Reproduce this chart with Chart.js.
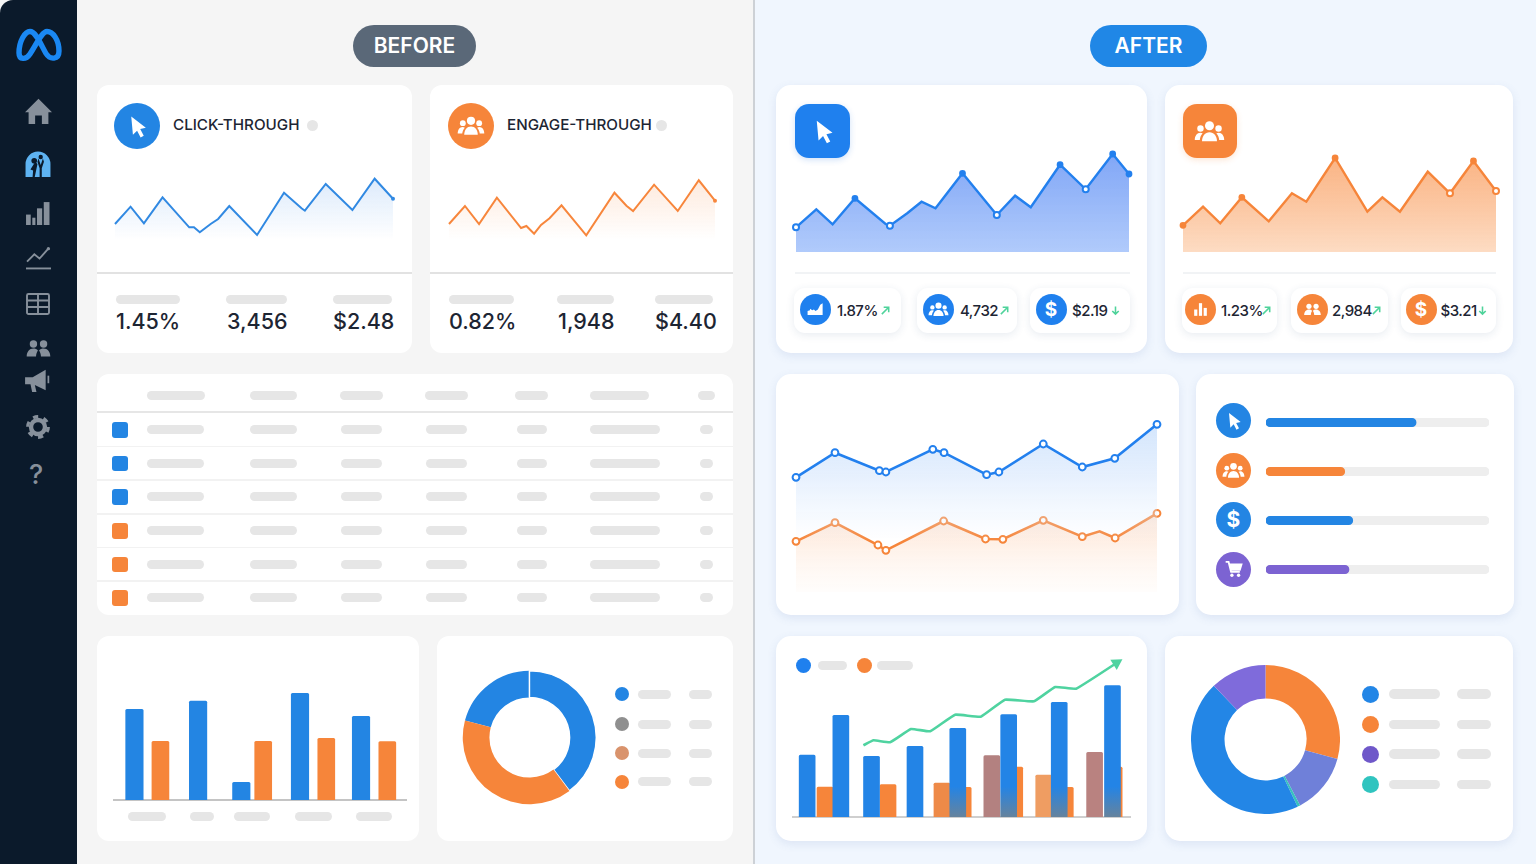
<!DOCTYPE html>
<html>
<head>
<meta charset="utf-8">
<title>Before / After</title>
<script src="https://cdn.jsdelivr.net/npm/chart.js@4"></script>
<style>
    html, body { margin: 0; padding: 0; }
    body { width: 1536px; height: 864px; overflow: hidden; font-family: Inter, Roboto, sans-serif; background: #f5f5f5; position: relative; }
    #stage > * { position: absolute; }
    canvas { display: block; }
    .card { background: #fff; border-radius: 12px; box-sizing: border-box; }
    .after { border-radius: 15px; box-shadow: 0 3px 10px rgba(70, 110, 170, 0.12); }
    .chip { background: #fff; border-radius: 11px; box-shadow: 0 2px 8px rgba(40, 70, 120, 0.11); }
    .label { white-space: nowrap; transform: translateY(-50%); line-height: 1; }
    svg { display: block; overflow: visible; }
</style>
</head>
<body>
<div id="stage"></div>
<script>
// values, days run 0-100 along each chart
const clickBeforeDays = [0, 5.6, 10.4, 17.1, 26.7, 28.4, 30.5, 34.4, 37.1, 41.1, 51.1, 60.8, 67.1, 68.3, 75.8, 85.4, 93.4, 100];
const clickBeforeValues = [16, 33.3, 16.7, 42.7, 12.7, 12.7, 7.7, 16, 21, 34, 5, 47.3, 31.7, 29.3, 56, 30, 61.3, 41.3];
const engageBeforeDays = [0, 6, 11.3, 18, 27.1, 29.1, 32, 34.6, 37.8, 42.3, 51.6, 62.2, 66.7, 69.2, 77.1, 86, 93.9, 100];
const engageBeforeValues = [16, 34, 16, 42.3, 12, 14, 6.3, 15, 21.7, 34.7, 4.7, 47.3, 34.3, 29, 55.3, 29, 59.7, 39.3];

const clickAfterDays = [0, 6.1, 11, 17.7, 26.9, 28.2, 33.4, 37.7, 41.9, 50, 60.3, 65.8, 70.5, 79.3, 87, 95.1, 100];
const clickAfterValues = [24.7, 42.7, 27.7, 53.7, 28, 26.3, 38.7, 50.3, 43.7, 78.7, 37, 56.3, 44.7, 87.3, 62.7, 98, 78];
const engageAfterDays = [0, 6.4, 11.9, 18.8, 27.4, 34.8, 39.4, 48.6, 58.9, 63.7, 69.3, 78.2, 85.3, 92.8, 100];
const engageAfterValues = [26.7, 45.3, 28.7, 54.7, 30.7, 58.7, 50.3, 94, 40.3, 54.7, 40.3, 80.3, 58.7, 91, 61];

const trendBlueDays = [0, 10.8, 23.1, 24.9, 37.9, 41, 52.8, 56.2, 68.5, 79.3, 88.3, 100];
const trendBlueValues = [114.7, 139.3, 121.3, 120, 142.7, 139.3, 117.3, 120, 148, 125, 133.7, 167.7];
const trendOrangeDays = [0, 10.8, 22.7, 24.9, 40.9, 52.5, 57.3, 68.5, 79.3, 84.1, 88.4, 100];
const trendOrangeValues = [50.7, 69.3, 47, 41.7, 71, 53, 52.7, 71.7, 55.3, 60.7, 54, 78.7];

const barsBeforeBlueDays = [7, 28.8, 43.6, 63.7, 84.6];
const barsBeforeBlueValues = [90.7, 99, 17.7, 106.7, 83.7];
const barsBeforeOrangeDays = [15.9, 51.1, 72.7, 93.6];
const barsBeforeOrangeValues = [58.7, 58.7, 61.7, 58.3];

const barsAfterBlueDays = [4.2, 14.2, 23.3, 36.2, 48.9, 64, 79, 94.8];
const barsAfterBlueValues = [62, 101.7, 60.7, 70.7, 88.7, 102.3, 114.7, 131.3];
const barsAfterOrangeDays = [9.5, 28.2, 44.2, 50.5, 59, 65.8, 74.4, 80.8, 89.5, 95.3];
const barsAfterOrangeValues = [30, 32.3, 34, 29.7, 61.3, 50, 42, 29.7, 64.7, 50];
const growthDays = [20.9, 23.9, 28.8, 35, 40.7, 48.1, 55.7, 62.9, 71.5, 77.8, 84, 96];
const growthValues = [71.7, 76.7, 74.7, 88, 85.7, 102.3, 100.3, 117.3, 115.7, 130, 128.3, 154];

const donutBeforeValues = [20.9, 39.8, 39.3];
const donutAfterValues = [29.2, 13.1, 0.6, 44.9, 12.2];
const progressCategories = ['Click', 'Engage', 'Cost', 'Purchase'];
const progressValues = [67.3, 35.3, 38.9, 37.2];

const clickBeforeStats = ['1.45%', '3,456', '$2.48'];
const engageBeforeStats = ['0.82%', '1,948', '$4.40'];
const clickAfterStats = ['1.87%', '4,732', '$2.19'];
const engageAfterStats = ['1.23%', '2,984', '$3.21'];

const BLUE = '#2385e3';
const ORANGE = '#f6853a';
const PURPLE = '#7c63d2';
const PILL = '#e6e6e6';
const INK = '#1d2533';
const NAV = '#87909b';

const stage = document.getElementById('stage');

function add(tag, left, top, width, height, css, cls) {
    const el = document.createElement(tag);
    el.style.left = left + 'px';
    el.style.top = top + 'px';
    if (width != null) el.style.width = width + 'px';
    if (height != null) el.style.height = height + 'px';
    if (css) el.style.cssText += css;
    if (cls) el.className = cls;
    stage.appendChild(el);
    return el;
}

function pill(x1, x2, cy, h) {
    add('div', x1, cy - (h || 9) / 2, x2 - x1, h || 9, 'background:' + PILL + ';border-radius:5px;');
}

function dot(cx, cy, r, color) {
    add('div', cx - r, cy - r, r * 2, r * 2, 'background:' + color + ';border-radius:50%;');
}

function text(str, left, cy, size, weight, color, spacing) {
    const el = add('div', left, cy, null, null, 'font-size:' + size + 'px;font-weight:' + weight + ';color:' + color + ';letter-spacing:' + (spacing || 0) + 'px;', 'label');
    el.textContent = str;
}

const ICONS = {
    cursor: '<path fill="currentColor" d="M6 2.5 L7.6 20 L11.6 16 L15 22.5 L18 20.8 L14.6 14.4 L20 13.2 Z"/>',
    people: '<g fill="currentColor"><circle cx="12" cy="7.6" r="3.5"/><circle cx="5" cy="9.6" r="2.5"/><circle cx="19" cy="9.6" r="2.5"/><path d="M6.2 19.5c0-4 2.4-7 5.8-7s5.8 3 5.8 7z"/><path d="M.6 18.5c0-3.2 1.8-5.6 4.2-5.6.7 0 1.3.2 1.9.5-1.3 1.3-2 3.1-2.2 5.1z"/><path d="M23.4 18.5c0-3.2-1.8-5.6-4.2-5.6-.7 0-1.3.2-1.9.5 1.3 1.3 2 3.1 2.2 5.1z"/></g>',
    people2: '<g fill="currentColor"><circle cx="7.5" cy="8" r="3.3"/><circle cx="16.5" cy="8" r="3.3"/><path d="M1.5 19c0-4 2.4-7 6-7 1.6 0 3 .6 4 1.7-1 1.4-1.6 3.2-1.7 5.3z"/><path d="M22.5 19c0-4-2.4-7-6-7-1.6 0-3 .6-4 1.7 1 1.4 1.6 3.2 1.7 5.3z"/></g>',
    area: '<path fill="currentColor" d="M2 19 V14 L5 13 V11 L8 13 L10 12 L12 14 L15 12 L18 6 L21 4 V19 Z"/>',
    columns: '<g fill="currentColor"><rect x="4" y="12" width="4" height="8"/><rect x="10" y="4" width="4" height="16"/><rect x="16" y="10" width="4" height="10"/></g>',
    cart: '<g fill="none" stroke="currentColor" stroke-width="2.2"><path d="M2 3.5h3.5l3 12h10.5"/><path d="M6 6.5h15l-2 6.5H8" fill="currentColor"/></g><circle fill="currentColor" cx="9.5" cy="19.5" r="2"/><circle fill="currentColor" cx="17.5" cy="19.5" r="2"/>',
    home: '<path fill="currentColor" d="M12 1.5 L24 13.5 H20.8 V24 H15 V16.5 H9 V24 H3.2 V13.5 H0 Z"/>',
    gauge: '<path fill="currentColor" d="M.5 24 V12 A11.5 11.5 0 0 1 23.5 12 V24 Z"/><g fill="#0b1a2b"><circle cx="8.5" cy="9" r="2.6"/><circle cx="14.5" cy="5.5" r="2"/><path d="M5 17 L9.5 10 L11.5 12 L9 24 H7 L7.5 18 Z"/><path d="M12.5 7 L14.5 13 L16.5 7 L17.5 10 L15.5 16 V24 H13.5 V16 L11.5 10 Z"/></g>',
    bars: '<g fill="currentColor"><rect x="1" y="14" width="4.5" height="10"/><rect x="7" y="17" width="3" height="7"/><rect x="11.5" y="8" width="5" height="16"/><rect x="18" y="2" width="5.5" height="22"/></g>',
    line: '<path fill="none" stroke="currentColor" stroke-width="1.8" d="M1 16 L8 9 L13 13 L21 4"/><circle fill="currentColor" cx="21.5" cy="3.5" r="1.6"/><path stroke="currentColor" stroke-width="1.8" d="M0 22.5 H24"/>',
    table: '<g fill="none" stroke="currentColor" stroke-width="1.9"><rect x="1" y="2" width="22" height="20" rx="1.5"/><path d="M1 8.5 H23 M1 15 H23 M12 2 V22"/></g>',
    megaphone: '<path fill="currentColor" d="M1 9.5 H8 L20 2.5 V21.5 L10 16.5 L11.5 23 H7.5 L6 16 H1 Z"/><path fill="none" stroke="currentColor" stroke-width="1.6" d="M22.5 8 V15"/>',
    gear: '<circle cx="12" cy="12" r="7" fill="none" stroke="currentColor" stroke-width="4.4"/><circle cx="12" cy="12" r="10.3" fill="none" stroke="currentColor" stroke-width="3.2" stroke-dasharray="5.2 5.6"/>',
    up: '<path fill="none" stroke="#4fd39b" stroke-width="3.4" d="M4 20 L19 5 M8 5 H19 V16"/>',
    down: '<path fill="none" stroke="#4fd39b" stroke-width="3.4" d="M12 3 V20 M5 13 L12 20 L19 13"/>'
};

function icon(name, cx, cy, size, color) {
    const wrap = add('div', cx - size / 2, cy - size / 2, size, size, 'color:' + color + ';');
    wrap.innerHTML = '<svg viewBox="0 0 24 24" width="' + size + '" height="' + size + '">' + ICONS[name] + '</svg>';
}

function badge(cx, cy, r, color, name, size) {
    dot(cx, cy, r, color);
    if (name === '$') {
        const el = add('div', cx - r, cy - r, r * 2, r * 2, 'display:flex;align-items:center;justify-content:center;color:#fff;font-weight:700;font-size:' + size + 'px;');
        el.textContent = '$';
    } else {
        icon(name, cx, cy, size, '#fff');
    }
}

function zip(days, values) {
    return days.map((d, i) => ({ x: d, y: values[i] }));
}

// vertical gradient over the plot, stops are [position, colour]
function fade(stops) {
    return function (ctx) {
        const area = ctx.chart.chartArea;
        if (!area) return stops[0][1];
        const g = ctx.chart.ctx.createLinearGradient(0, area.top, 0, area.bottom);
        stops.forEach(s => g.addColorStop(s[0], s[1]));
        return g;
    };
}

const PAD = 8;

function areaChart(x, y, w, h, datasets) {
    const canvas = add('canvas', x - PAD, y - PAD, w + PAD * 2, h + PAD * 2);
    canvas.width = w + PAD * 2;
    canvas.height = h + PAD * 2;
    return new Chart(canvas.getContext('2d'), {
        type: 'line',
        data: { datasets: datasets },
        options: {
            responsive: false,
            animation: false,
            layout: { padding: PAD },
            plugins: { legend: { display: false }, tooltip: { enabled: false } },
            scales: {
                x: { type: 'linear', display: false, min: 0, max: 100 },
                y: { display: false, min: 0, max: h }
            }
        }
    });
}

function pointStyler(count, filled, hollow, color, bigR, hollowR) {
    const radius = [], bg = [];
    for (let i = 0; i < count; i++) {
        const isHollow = hollow.indexOf(i) >= 0;
        const isFilled = filled.indexOf(i) >= 0;
        radius.push(isHollow ? hollowR : isFilled ? bigR : 0);
        bg.push(isHollow ? '#fff' : color);
    }
    return { pointRadius: radius, pointBackgroundColor: bg, pointBorderColor: color, pointBorderWidth: 2 };
}

function lastDot(count) {
    const radius = [];
    for (let i = 0; i < count; i++) radius.push(i === count - 1 ? 2 : 0);
    return radius;
}

function barAxis(lineColor) {
    return {
        type: 'linear', min: 0, max: 100, offset: false,
        ticks: { display: false },
        grid: { display: false, drawTicks: false, offset: false },
        border: { display: true, color: lineColor, width: 2 },
        afterFit: function (s) { s.height = 0; }
    };
}

function donut(cx, cy, r, values, colors, cutout, rotation, borderWidths) {
    const size = r * 2 + 2;
    const canvas = add('canvas', cx - size / 2, cy - size / 2, size, size);
    canvas.width = size;
    canvas.height = size;
    new Chart(canvas.getContext('2d'), {
        type: 'doughnut',
        data: { datasets: [{ data: values, backgroundColor: colors, borderColor: '#fff', borderWidth: borderWidths }] },
        options: {
            responsive: false, animation: false, cutout: cutout, rotation: rotation,
            plugins: { legend: { display: false }, tooltip: { enabled: false } }
        }
    });
}

function buildFrame() {
    add('div', 753, 0, 783, 864, 'background:#f0f6fe;border-left:2px solid #cdd1d6;box-sizing:border-box;');
    add('div', 0, 0, 77, 864, 'background:#0b1a2b;border-radius:13px 0 0 0;');

    const logo = add('div', 15, 28, 47, 34);
    logo.innerHTML = '<svg viewBox="0 0 47 34" width="47" height="34"><path fill="none" stroke="#1a88f3" stroke-width="5.4" stroke-linecap="round" d="M4 25 C4 13 10 3.5 15 3.5 C21 3.5 26 17 31 25.5 C35 32 44 32 44 23 C44 12 38 3.5 32 3.5 C27 3.5 21 17 15 26 C11 32 4 32 4 25 Z"/></svg>';

    icon('home', 38, 110.5, 27, NAV);
    icon('gauge', 38, 164, 26, '#5eb3f2');
    icon('bars', 37, 212, 25, NAV);
    icon('line', 38, 257, 25, NAV);
    icon('table', 38, 304, 24, NAV);
    icon('people2', 38, 348, 27, NAV);
    icon('megaphone', 37, 380, 26, NAV);
    icon('gear', 38, 427, 24, NAV);
    text('?', 29, 474, 27, 500, NAV);

    const before = add('div', 353, 25, 123, 42, 'background:#5a6878;border-radius:21px;display:flex;align-items:center;justify-content:center;color:#fff;font-size:21px;font-weight:600;padding-bottom:2px;box-sizing:border-box;');
    before.textContent = 'BEFORE';
    const after = add('div', 1090, 25, 117, 42, 'background:#2087e6;border-radius:21px;display:flex;align-items:center;justify-content:center;color:#fff;font-size:21px;font-weight:600;padding-bottom:2px;box-sizing:border-box;');
    after.textContent = 'AFTER';
}

function buildBefore() {
    add('div', 97, 85, 315, 268, null, 'card');
    add('div', 430, 85, 303, 268, null, 'card');
    add('div', 97, 272, 315, 2, 'background:#e2e2e2;');
    add('div', 430, 272, 303, 2, 'background:#e2e2e2;');

    badge(137, 126, 23, BLUE, 'cursor', 25);
    text('CLICK-THROUGH', 173, 125, 15.2, 500, INK);
    dot(312, 125, 5.5, '#e6e6e6');
    badge(471, 126, 23, ORANGE, 'people', 28);
    text('ENGAGE-THROUGH', 507, 125, 15.2, 500, INK);
    dot(661, 125, 5.5, '#e6e6e6');

    pill(116, 180, 299); pill(226, 287, 299); pill(333, 392, 299);
    pill(449, 514, 299); pill(557, 614, 299); pill(655, 713, 299);
    [116, 227, 333].forEach((x, i) => text(clickBeforeStats[i], x, 322, 21.5, 500, INK));
    [449, 558, 655].forEach((x, i) => text(engageBeforeStats[i], x, 322, 21.5, 500, INK));

    areaChart(115, 170, 278, 70, [{
        data: zip(clickBeforeDays, clickBeforeValues), borderColor: '#3189e2', borderWidth: 2, tension: 0, clip: false,
        fill: 'start', backgroundColor: fade([[0.2, 'rgba(80,150,235,0.18)'], [1, 'rgba(80,150,235,0)']]),
        pointRadius: lastDot(clickBeforeDays.length), pointBackgroundColor: '#3189e2', pointBorderWidth: 0
    }]);
    areaChart(449, 170, 266, 70, [{
        data: zip(engageBeforeDays, engageBeforeValues), borderColor: '#f7863c', borderWidth: 2, tension: 0, clip: false,
        fill: 'start', backgroundColor: fade([[0.2, 'rgba(247,134,60,0.16)'], [1, 'rgba(247,134,60,0)']]),
        pointRadius: lastDot(engageBeforeDays.length), pointBackgroundColor: '#f7863c', pointBorderWidth: 0
    }]);

    // table of placeholders
    add('div', 97, 374, 636, 241, null, 'card');
    add('div', 97, 411, 636, 2, 'background:#e6e6e6;');
    [[147, 205], [250, 297], [340, 383], [425, 468], [515, 548], [590, 649], [698, 715]].forEach(p => pill(p[0], p[1], 395));
    [429.5, 463, 496.5, 530.5, 564, 597.5].forEach((cy, r) => {
        if (r > 0) add('div', 97, cy - 17.5, 636, 1.5, 'background:#f2f2f2;');
        add('div', 112, cy - 7.5, 15.5, 15.5, 'border-radius:3px;background:' + (r < 3 ? BLUE : ORANGE) + ';');
        [[147, 204], [250, 297], [341, 382], [426, 467], [517, 547], [590, 660], [700, 713]].forEach(p => pill(p[0], p[1], cy));
    });

    add('div', 97, 636, 322, 205, null, 'card');
    add('div', 437, 636, 296, 205, null, 'card');

    const canvas = add('canvas', 114 - PAD, 679.5 - PAD, 292 + PAD * 2, 120 + PAD * 2);
    canvas.width = 292 + PAD * 2;
    canvas.height = 120 + PAD * 2;
    new Chart(canvas.getContext('2d'), {
        type: 'bar',
        data: {
            datasets: [
                { data: zip(barsBeforeBlueDays, barsBeforeBlueValues), backgroundColor: BLUE, barThickness: 17.5, borderRadius: 1.5, borderSkipped: 'bottom' },
                { data: zip(barsBeforeOrangeDays, barsBeforeOrangeValues), backgroundColor: ORANGE, barThickness: 17, borderRadius: 1.5, borderSkipped: 'bottom' }
            ]
        },
        options: {
            responsive: false, animation: false, layout: { padding: PAD },
            datasets: { bar: { grouped: false } },
            plugins: { legend: { display: false }, tooltip: { enabled: false } },
            scales: { x: barAxis('#c4c4c4'), y: { display: false, min: 0, max: 120 } }
        }
    });
    [[128, 165.5], [189.5, 213.5], [234, 269.5], [295, 332], [356, 392]].forEach(p => pill(p[0], p[1], 816.5));

    donut(529, 737.5, 66.5, donutBeforeValues, [BLUE, BLUE, ORANGE], '60%', -75.3, [0, 1.5, 0]);
    [[694, BLUE], [724, '#8f8f8f'], [753, '#d9936c'], [781.5, ORANGE]].forEach(row => {
        dot(622, row[0], 7, row[1]);
        pill(637.5, 670.5, row[0]);
        pill(689, 711.5, row[0]);
    });
}

function chips(xs, texts, iconNames, iconSizes, color) {
    xs.forEach((c, i) => {
        add('div', c.x1, 288, c.x2 - c.x1, 45, null, 'chip');
        badge(c.ic, 309.5, 15.5, color, iconNames[i], iconSizes[i]);
        text(texts[i], c.tx, 309.5, 15, 500, INK, -0.5);
        icon(i === 2 ? 'down' : 'up', c.ar, 310, 11, '');
    });
}

function buildAfter() {
    add('div', 776, 85, 371, 268, null, 'card after');
    add('div', 1165, 85, 348, 268, null, 'card after');
    add('div', 795, 104, 54.5, 53.5, 'background:#1f80ee;border-radius:14px;box-shadow:0 2px 6px rgba(30,110,220,.2);');
    icon('cursor', 823, 131, 27, '#fff');
    add('div', 1183, 104, 53.5, 53.5, 'background:#f6853a;border-radius:14px;box-shadow:0 2px 6px rgba(240,130,50,.2);');
    icon('people', 1209.5, 131, 31, '#fff');
    add('div', 795, 272, 335, 1.5, 'background:#f1f3f5;');
    add('div', 1183, 272, 313, 1.5, 'background:#f1f3f5;');

    areaChart(795.5, 142, 333, 110, [Object.assign({
        data: zip(clickAfterDays, clickAfterValues), borderColor: '#2380ee', borderWidth: 2.4, tension: 0, clip: false,
        fill: 'start', backgroundColor: fade([[0, 'rgba(89,138,243,0.8)'], [1, 'rgba(150,185,250,0.75)']])
    }, pointStyler(clickAfterDays.length, [3, 9, 13, 15, 16], [0, 5, 10, 14], '#2380ee', 2.4, 3))]);
    areaChart(1183, 142, 313, 110, [Object.assign({
        data: zip(engageAfterDays, engageAfterValues), borderColor: '#f6853a', borderWidth: 2.4, tension: 0, clip: false,
        fill: 'start', backgroundColor: fade([[0, 'rgba(249,160,100,0.85)'], [1, 'rgba(253,218,192,0.95)']])
    }, pointStyler(engageAfterDays.length, [0, 3, 7, 13], [12, 14], '#f6853a', 2.4, 3))]);

    chips([{ x1: 794, x2: 901, ic: 815, tx: 837, ar: 885 }, { x1: 917, x2: 1017, ic: 938.5, tx: 960, ar: 1004 }, { x1: 1030, x2: 1130, ic: 1051, tx: 1072, ar: 1115 }],
        clickAfterStats, ['area', 'people', '$'], [19, 21, 19], '#1f80ee');
    chips([{ x1: 1182, x2: 1277, ic: 1200.5, tx: 1221, ar: 1266 }, { x1: 1291, x2: 1388, ic: 1312, tx: 1332, ar: 1376 }, { x1: 1401, x2: 1496, ic: 1421, tx: 1440.5, ar: 1482 }],
        engageAfterStats, ['columns', 'people2', '$'], [19, 19, 19], '#f6853a');

    // middle row
    add('div', 776, 374, 403, 240.5, null, 'card after');
    add('div', 1196, 374, 318, 240.5, null, 'card after');
    areaChart(796, 412, 361, 180, [
        Object.assign({
            data: zip(trendBlueDays, trendBlueValues), borderColor: '#2380ee', borderWidth: 2.6, tension: 0, clip: false,
            fill: 'start', backgroundColor: fade([[0, 'rgba(165,203,250,0.55)'], [0.35, 'rgba(200,222,252,0.45)'], [0.58, 'rgba(225,238,254,0.3)'], [0.72, 'rgba(235,243,255,0)']])
        }, pointStyler(trendBlueDays.length, [], [0, 1, 2, 3, 4, 5, 6, 7, 8, 9, 10, 11], '#2380ee', 3.4, 3.4)),
        Object.assign({
            data: zip(trendOrangeDays, trendOrangeValues), borderColor: '#f6853a', borderWidth: 2.6, tension: 0, clip: false,
            fill: 'start', backgroundColor: fade([[0.5, 'rgba(250,165,110,0.36)'], [1, 'rgba(255,215,185,0.05)']])
        }, pointStyler(trendOrangeDays.length, [], [0, 1, 2, 3, 4, 5, 6, 7, 8, 10, 11], '#f6853a', 3.4, 3.4))
    ]);

    const rows = [[420.5, BLUE, 'cursor', 20], [470.5, ORANGE, 'people', 23], [519.5, BLUE, '$', 21], [569, PURPLE, 'cart', 20]];
    rows.forEach(r => badge(1233.5, r[0], 17.5, r[1], r[2], r[3]));
    const progress = add('canvas', 1265.5, 397.5, 223, 196);
    progress.width = 223;
    progress.height = 196;
    new Chart(progress.getContext('2d'), {
        type: 'bar',
        data: {
            labels: progressCategories,
            datasets: [
                { data: progressValues, backgroundColor: [BLUE, ORANGE, BLUE, PURPLE], barThickness: 8.5, borderRadius: 4.5, borderSkipped: false },
                { data: progressCategories.map(() => 100), backgroundColor: '#eeeeee', barThickness: 8.5, borderRadius: 4.5, borderSkipped: false }
            ]
        },
        options: {
            indexAxis: 'y', responsive: false, animation: false,
            datasets: { bar: { grouped: false } },
            plugins: { legend: { display: false }, tooltip: { enabled: false } },
            scales: { x: { display: false, min: 0, max: 100 }, y: { display: false } }
        }
    });

    // bottom row
    add('div', 776, 636, 371, 205, null, 'card after');
    add('div', 1165, 636, 348, 205, null, 'card after');
    dot(803.5, 665.5, 7.5, '#1f80ee');
    pill(817.5, 846.5, 665.5);
    dot(864, 665.5, 7.5, ORANGE);
    pill(876.5, 912.5, 665.5);

    const solidBlue = '#2384e6';
    const blendedBlue = fade([[0.82, solidBlue], [1, '#66839d']]);
    const combo = add('canvas', 793 - PAD, 647 - PAD, 337 + PAD * 2, 170 + PAD * 2);
    combo.width = 337 + PAD * 2;
    combo.height = 170 + PAD * 2;
    new Chart(combo.getContext('2d'), {
        type: 'bar',
        data: {
            datasets: [
                {
                    type: 'line', order: 0, data: zip(growthDays, growthValues), borderColor: '#4fd3a0', borderWidth: 2.6, tension: 0.1, clip: false,
                    pointRadius: growthDays.map((d, i) => i === growthDays.length - 1 ? 7 : 0),
                    pointStyle: 'triangle', pointRotation: 58, pointBackgroundColor: '#4fd3a0', pointBorderWidth: 0
                },
                {
                    order: 1, data: zip(barsAfterBlueDays, barsAfterBlueValues),
                    backgroundColor: ctx => ctx.dataIndex >= 4 ? blendedBlue(ctx) : solidBlue,
                    barThickness: 16, borderRadius: 1.5, borderSkipped: 'bottom'
                },
                {
                    order: 2, data: zip(barsAfterOrangeDays, barsAfterOrangeValues),
                    backgroundColor: [ORANGE, ORANGE, '#ee8a48', ORANGE, '#b38180', ORANGE, '#ef9d62', ORANGE, '#b98280', ORANGE],
                    barThickness: 16, borderRadius: 1.5, borderSkipped: 'bottom'
                }
            ]
        },
        options: {
            responsive: false, animation: false, layout: { padding: PAD },
            datasets: { bar: { grouped: false } },
            plugins: { legend: { display: false }, tooltip: { enabled: false } },
            scales: { x: barAxis('#cfcfcf'), y: { display: false, min: 0, max: 170 } }
        }
    });

    donut(1265.5, 739, 73.5, donutAfterValues, [ORANGE, '#6f80d9', '#38c2bd', '#2386e6', '#7f6bdb'], '55%', 0, 0);
    [[694, '#2386e6'], [724.5, ORANGE], [754, '#6f58c9'], [784.5, '#30c4bf']].forEach(row => {
        dot(1370.5, row[0], 8.5, row[1]);
        pill(1389, 1439.5, row[0], 9.5);
        pill(1457, 1491, row[0], 9.5);
    });
}

buildFrame();
buildBefore();
buildAfter();
</script>
</body>
</html>
